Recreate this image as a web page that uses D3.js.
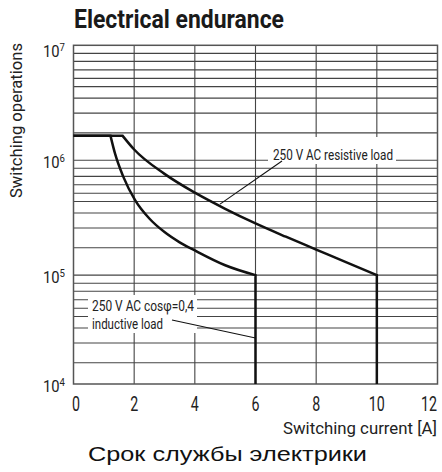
<!DOCTYPE html>
<html>
<head>
<meta charset="utf-8">
<script src="https://cdn.jsdelivr.net/npm/d3@7"></script>
<style>
  body { margin: 0; background: #fff; }
  svg { display: block; }
</style>
</head>
<body>
<script>
// values
var xTicks = [0, 2, 4, 6, 8, 10, 12];
var yDecades = [1e4, 1e5, 1e6, 1e7];
var yExponents = ["4", "5", "6", "7"];
// the minor grid in the source is not quite logarithmic, these are the read positions
var minorSteps = [1.73, 2.57, 3.47, 4.37, 5.16, 6.11, 7.24, 8.51];
var yBottom = 1.13e4; // frame ends a little above 10^4

var resistiveX = [0, 1.62, 2, 3, 4, 5, 6, 7, 8, 9, 10, 10];
var resistiveY = [1.63e6, 1.63e6, 1.24e6, 7.61e5, 5.22e5, 3.78e5, 2.82e5, 2.16e5, 1.67e5, 1.29e5, 1e5, 1e4];
var inductiveX = [0, 1.22, 1.37, 1.64, 2.03, 2.5, 3, 3.5, 4, 5, 6, 6];
var inductiveY = [1.63e6, 1.63e6, 1.14e6, 7.2e5, 4.5e5, 3.11e5, 2.37e5, 1.93e5, 1.64e5, 1.22e5, 1e5, 1e4];

var resistivePoint = [4.83, 4.15e5];
var inductivePoint = [6, 2.84e4];

var narrow = "'Liberation Sans Narrow', Roboto, 'Liberation Sans', sans-serif";

var width = 442, height = 472;
var plotLeft = 73.5, plotRight = 437.5, plotTop = 45.3, plotBottom = 384;

var svg = d3.select("body").append("svg")
    .attr("width", width)
    .attr("height", height);

var x = d3.scaleLinear().domain([0, 12]).range([plotLeft, plotRight]);
var y = d3.scaleLog().domain([yBottom, 1e7]).range([plotBottom, plotTop]).clamp(true);

// all horizontal grid values
var hGrid = [];
yDecades.forEach(function(d) {
  minorSteps.forEach(function(m) {
    var v = d * m;
    if (v > yBottom && v < 1e7) hGrid.push(v);
  });
  if (d > 1e4 && d < 1e7) hGrid.push(d);
});

var grid = svg.append("g")
    .attr("stroke", "#444")
    .attr("stroke-width", 1.1);

grid.selectAll(".h")
    .data(hGrid)
  .enter().append("line")
    .attr("x1", plotLeft).attr("x2", plotRight)
    .attr("y1", function(d) { return y(d); })
    .attr("y2", function(d) { return y(d); });

grid.selectAll(".v")
    .data(xTicks.slice(1, -1))
  .enter().append("line")
    .attr("x1", function(d) { return x(d); })
    .attr("x2", function(d) { return x(d); })
    .attr("y1", plotTop).attr("y2", plotBottom);

// frame
svg.append("rect")
    .attr("x", plotLeft).attr("y", plotTop)
    .attr("width", plotRight - plotLeft).attr("height", plotBottom - plotTop)
    .attr("fill", "none")
    .attr("stroke", "#555")
    .attr("stroke-width", 1.5);

// label boxes hide the grid behind the text
svg.append("rect")
    .attr("x", 268).attr("y", 137).attr("width", 128).attr("height", 27)
    .attr("fill", "#fff");
svg.append("rect")
    .attr("x", 88).attr("y", 295).attr("width", 109).attr("height", 38)
    .attr("fill", "#fff");

var labels = svg.append("g")
    .attr("font-family", narrow)
    .attr("font-size", 14.5)
    .attr("fill", "#222");

labels.append("text").attr("x", 273).attr("y", 160)
    .attr("textLength", 120).attr("lengthAdjust", "spacingAndGlyphs")
    .text("250 V AC resistive load");
labels.append("text").attr("x", 92).attr("y", 311)
    .attr("textLength", 102).attr("lengthAdjust", "spacingAndGlyphs")
    .text("250 V AC cosφ=0,4");
labels.append("text").attr("x", 92).attr("y", 329)
    .attr("textLength", 71).attr("lengthAdjust", "spacingAndGlyphs")
    .text("inductive load");

// leader lines
svg.append("line")
    .attr("x1", 282).attr("y1", 161)
    .attr("x2", x(resistivePoint[0])).attr("y2", y(resistivePoint[1]))
    .attr("stroke", "#111").attr("stroke-width", 1.1);
svg.append("line")
    .attr("x1", 172).attr("y1", 320)
    .attr("x2", x(inductivePoint[0])).attr("y2", y(inductivePoint[1]))
    .attr("stroke", "#111").attr("stroke-width", 1.1);

// curves: straight plateau, smooth fall, straight drop
function curvePath(xs, ys) {
  var pts = xs.map(function(d, i) { return [x(d), y(ys[i])]; });
  var straight = d3.line();
  var smooth = d3.line().curve(d3.curveMonotoneX);
  var n = pts.length;
  var d1 = straight(pts.slice(0, 2));
  var d2 = smooth(pts.slice(1, n - 1)).replace(/^M/, "L");
  var d3p = straight(pts.slice(n - 2)).replace(/^M/, "L");
  return d1 + d2 + d3p;
}

svg.append("path")
    .attr("d", curvePath(resistiveX, resistiveY))
    .attr("fill", "none").attr("stroke", "#111").attr("stroke-width", 2.5);
svg.append("path")
    .attr("d", curvePath(inductiveX, inductiveY))
    .attr("fill", "none").attr("stroke", "#111").attr("stroke-width", 2.5);

// y tick labels 10^n
var yLab = svg.append("g").attr("font-family", narrow).attr("fill", "#222");
yDecades.forEach(function(d, i) {
  var py = Math.max(y(d) + 8, 57);
  var t = yLab.append("text")
      .attr("x", 65).attr("y", py)
      .attr("text-anchor", "end")
      .attr("textLength", 22).attr("lengthAdjust", "spacingAndGlyphs");
  t.append("tspan").attr("font-size", 17).text("10");
  t.append("tspan").attr("font-size", 11).attr("dy", -6).text(yExponents[i]);
});

// x tick labels
svg.append("g")
    .attr("font-family", narrow)
    .attr("font-size", 20)
    .attr("fill", "#222")
  .selectAll("text")
    .data(xTicks)
  .enter().append("text")
    .attr("x", function(d) { return Math.min(Math.max(x(d), 76), 429); })
    .attr("y", 411)
    .attr("text-anchor", "middle")
    .attr("textLength", function(d) { return String(d).length * 8; })
    .attr("lengthAdjust", "spacingAndGlyphs")
    .text(function(d) { return d; });

// titles
svg.append("text")
    .attr("x", 74).attr("y", 28)
    .attr("font-family", narrow)
    .attr("font-weight", "bold")
    .attr("font-size", 25)
    .attr("fill", "#1a1a1a")
    .attr("textLength", 210).attr("lengthAdjust", "spacingAndGlyphs")
    .text("Electrical endurance");

svg.append("text")
    .attr("transform", "translate(21.5,198) rotate(-90)")
    .attr("font-family", narrow)
    .attr("font-size", 17)
    .attr("fill", "#222")
    .attr("textLength", 155).attr("lengthAdjust", "spacingAndGlyphs")
    .text("Switching operations");

svg.append("text")
    .attr("x", 437).attr("y", 434)
    .attr("text-anchor", "end")
    .attr("font-family", narrow)
    .attr("font-size", 17)
    .attr("fill", "#222")
    .attr("textLength", 154).attr("lengthAdjust", "spacingAndGlyphs")
    .text("Switching current [A]");

svg.append("text")
    .attr("x", 88).attr("y", 461)
    .attr("font-family", "'Liberation Sans', Arial, sans-serif")
    .attr("font-size", 21)
    .attr("fill", "#111")
    .attr("textLength", 279).attr("lengthAdjust", "spacingAndGlyphs")
    .text("Срок службы электрики");
</script>
</body>
</html>
